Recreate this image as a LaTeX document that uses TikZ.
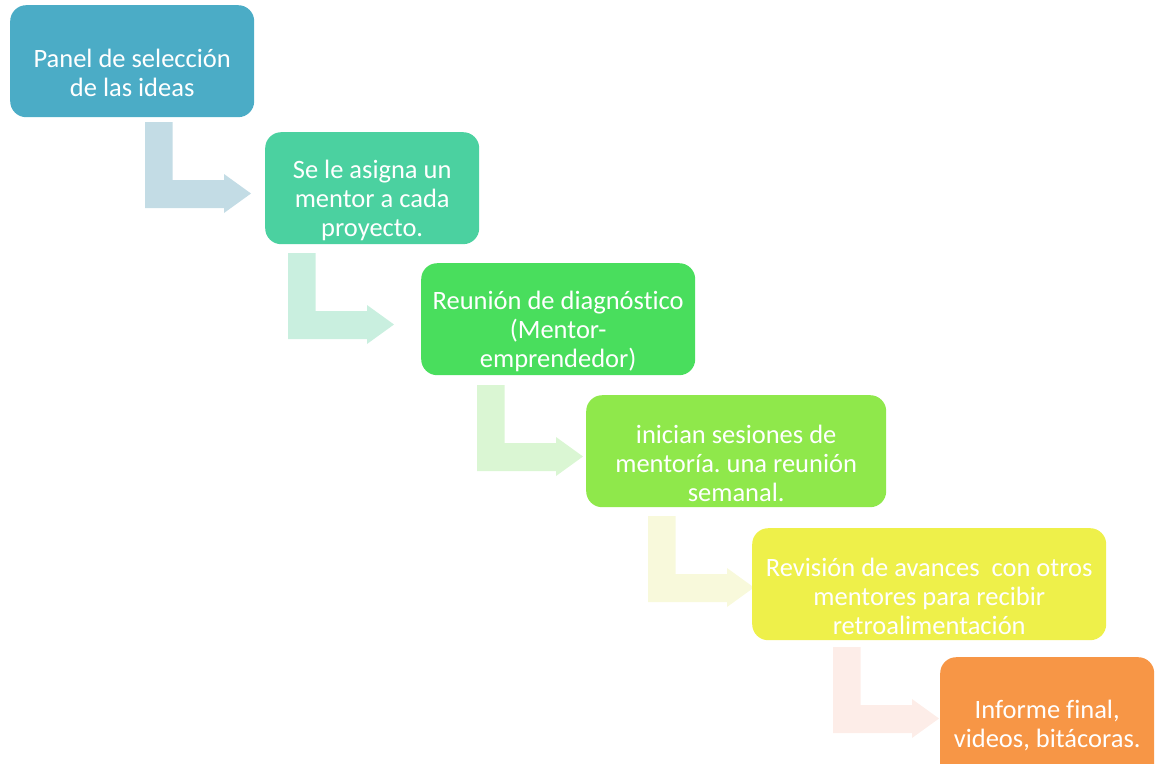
\documentclass[tikz,border=0pt]{standalone}
\usepackage{fontspec}
\setmainfont{Carlito}[Ligatures=NoCommon]
\frenchspacing
\definecolor{cA}{HTML}{4BACC6}
\definecolor{cB}{HTML}{4BD1A0}
\definecolor{cC}{HTML}{49DE5D}
\definecolor{cD}{HTML}{8FE84B}
\definecolor{cE}{HTML}{EEF04A}
\definecolor{cF}{HTML}{F79646}
\definecolor{aA}{HTML}{C3DCE5}
\definecolor{aB}{HTML}{C9EFDF}
\definecolor{aC}{HTML}{DAF6D3}
\definecolor{aD}{HTML}{F8F9DB}
\definecolor{aE}{HTML}{FDEDE8}
\tikzset{
  box/.style={draw=none, rounded corners=16pt, inner sep=0pt, anchor=north west},
  lbl/.style={text=white, align=center, inner sep=0pt, font=\fontsize{26.5}{29}\selectfont},
}
\newcommand{\bentarr}[3]{%
  \fill[#3] (#1,#2) -- ++(27.5,0) -- ++(0,58) -- ++(51.5,0) -- ++(0,-6) -- ++(27,19.5) -- ++(-27,19.5) -- ++(0,-5) -- ++(-79,0) -- cycle;}
\begin{document}
\begin{tikzpicture}[x=1pt,y=-1pt]
\useasboundingbox (0,0) rectangle (1156,763);
\clip (0,0) rectangle (1156,763);
% arrows
\bentarr{145}{122}{aA}
\bentarr{288}{253}{aB}
\bentarr{477}{385}{aC}
\bentarr{648}{516}{aD}
\bentarr{833}{647}{aE}
% boxes
\node[box, fill=cA, minimum width=244pt, minimum height=112pt] (b1) at (10,5) {};
\node[box, fill=cB, minimum width=214pt, minimum height=112pt] (b2) at (265,132) {};
\node[box, fill=cC, minimum width=274pt, minimum height=112pt] (b3) at (421,263) {};
\node[box, fill=cD, minimum width=300pt, minimum height=112pt] (b4) at (586,395) {};
\node[box, fill=cE, minimum width=354pt, minimum height=112pt] (b5) at (752,528) {};
\node[box, fill=cF, minimum width=214pt, minimum height=136pt] (b6) at (940,657) {};
% texts
\node[lbl] (t1) at ([yshift=-12pt]b1.center) {Panel de selección\\de las ideas};
\node[lbl] (t2) at ([yshift=-12pt]b2.center) {Se le asigna un\\mentor a cada\\proyecto.};
\node[lbl] (t3) at ([yshift=-12pt]b3.center) {Reunión de diagnóstico\\(Mentor-\\emprendedor)};
\node[lbl] (t4) at ([yshift=-12pt]b4.center) {inician sesiones de\\mentoría. una reunión\\semanal.};
\node[lbl] (t5) at ([yshift=-12pt]b5.center) {Revisión de avances\ \ con otros\\mentores para recibir\ \\retroalimentación};
\node[lbl] (t6) at (b6.center) {Informe final,\\videos, bitácoras.};
\end{tikzpicture}
\end{document}
